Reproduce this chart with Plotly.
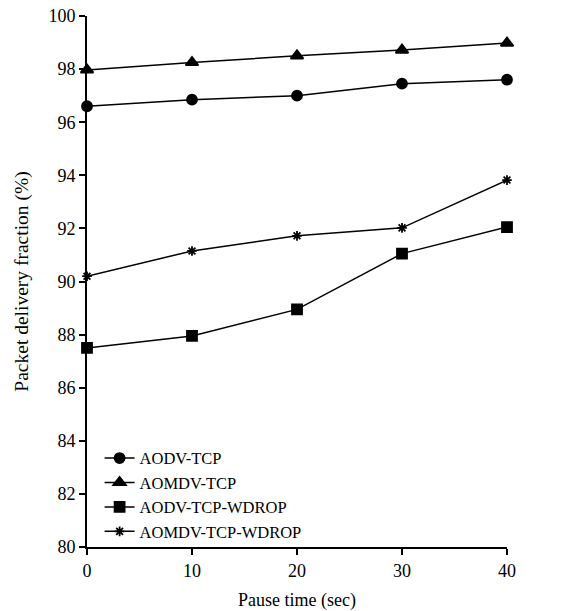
import plotly.graph_objects as go

pause_time = [0, 10, 20, 30, 40]
aodv_tcp = [96.6, 96.85, 97.0, 97.45, 97.6]
aomdv_tcp = [97.97, 98.25, 98.5, 98.72, 98.98]
aodv_tcp_wdrop = [87.5, 87.95, 88.95, 91.05, 92.05]
aomdv_tcp_wdrop = [90.2, 91.15, 91.72, 92.02, 93.82]

series = [
    ("AODV-TCP", aodv_tcp, "circle", 10),
    ("AOMDV-TCP", aomdv_tcp, "triangle-up", 11),
    ("AODV-TCP-WDROP", aodv_tcp_wdrop, "square", 10),
    ("AOMDV-TCP-WDROP", aomdv_tcp_wdrop, "asterisk-open", 8),
]

fig = go.Figure()
for name, vals, sym, size in series:
    fig.add_trace(go.Scatter(
        x=pause_time, y=vals, name=name, mode="lines+markers",
        line=dict(color="black", width=1.5),
        marker=dict(symbol=sym, size=size, color="black",
                    line=dict(color="black", width=1.8)),
        cliponaxis=False,
    ))

font = dict(family="Liberation Serif", size=18, color="black")
fig.update_layout(
    width=564, height=611,
    margin=dict(l=87, r=57, t=16, b=64),
    paper_bgcolor="white", plot_bgcolor="white",
    font=font,
    showlegend=True,
    legend=dict(x=0.03, y=0.2, xanchor="left", yanchor="top",
                bgcolor="rgba(0,0,0,0)",
                font=dict(family="Liberation Serif", size=16.5, color="black"),
                tracegroupgap=0, itemwidth=30),
    xaxis=dict(range=[0, 40], tickvals=[0, 10, 20, 30, 40],
               showgrid=False, zeroline=False, showline=True,
               linecolor="black", linewidth=2, ticks="outside",
               ticklen=6, tickwidth=2, tickcolor="black",
               title=dict(text="Pause time (sec)", standoff=14, font=font),
               tickfont=font, automargin=False, ticklabeloverflow="allow"),
    yaxis=dict(range=[80, 100], tickvals=list(range(80, 101, 2)),
               showgrid=False, zeroline=False, showline=True,
               linecolor="black", linewidth=2, ticks="outside",
               ticklen=6, tickwidth=2, tickcolor="black",
               title=dict(text="Packet delivery fraction (%)", standoff=15,
                          font=dict(family="Liberation Serif", size=19.5, color="black")),
               tickfont=font, automargin=False, ticklabeloverflow="allow"),
)

fig.write_html("out.html",
               config={"displayModeBar": False},
               post_script="document.body.style.margin='0';document.body.style.overflow='hidden';")
